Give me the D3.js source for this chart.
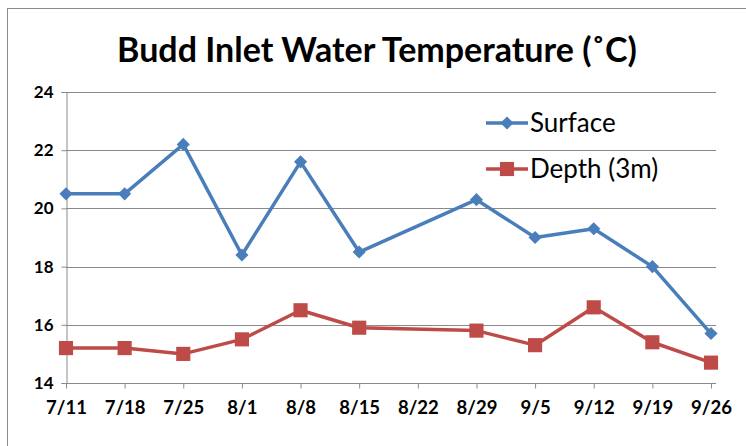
<!DOCTYPE html>
<html>
<head>
<meta charset="utf-8">
<script src="https://cdn.jsdelivr.net/npm/d3@7"></script>
<style>
  body { margin: 0; background: #fff; }
  text { font-family: Lato, "Open Sans", sans-serif; fill: #000; }
</style>
</head>
<body>
<svg id="chart" width="746" height="446"></svg>
<script>
// Budd Inlet water temperature, surface vs 3m depth

// Data
let dates = ["7/11", "7/18", "7/25", "8/1", "8/8", "8/15", "8/22", "8/29", "9/5", "9/12", "9/19", "9/26"];
let surface = [20.5, 20.5, 22.2, 18.4, 21.6, 18.5, null, 20.3, 19.0, 19.3, 18.0, 15.7];
let depth = [15.2, 15.2, 15.0, 15.5, 16.5, 15.9, null, 15.8, 15.3, 16.6, 15.4, 14.7];
let yTicks = [14, 16, 18, 20, 22, 24];

let svg = d3.select("#chart");

// Outer chart border (Excel style frame)
svg.append("rect")
	.attr("x", 7.5).attr("y", 8.5)
	.attr("width", 780).attr("height", 480)
	.attr("fill", "none")
	.attr("stroke", "#8c8c8c")
	.attr("stroke-width", 1);

// Scales
let x = d3.scalePoint().domain(dates).range([66, 711]);
let y = d3.scaleLinear().domain([14, 24]).range([383, 92]);
let plotRight = 716;

// Title
svg.append("text")
	.attr("x", 377).attr("y", 62)
	.attr("text-anchor", "middle")
	.style("font-size", "34px")
	.style("font-weight", "bold")
	.text("Budd Inlet Water Temperature (˚C)");

// Horizontal gridlines
svg.append("g").selectAll("line")
	.data(yTicks.filter(d => d != 14))
	.enter().append("line")
	.attr("x1", x.range()[0]).attr("x2", plotRight)
	.attr("y1", d => Math.round(y(d)) + 0.5)
	.attr("y2", d => Math.round(y(d)) + 0.5)
	.attr("stroke", "#8a8a8a")
	.attr("stroke-width", 1);

// Y axis
let yAxis = svg.append("g")
	.attr("transform", "translate(" + (x.range()[0] + 0.5) + ",0)")
	.call(d3.axisLeft(y).tickValues(yTicks).tickSize(5).tickPadding(8));

// X axis
let xAxis = svg.append("g")
	.attr("transform", "translate(0," + (Math.round(y(14)) + 0.5) + ")")
	.call(d3.axisBottom(x).tickSize(5).tickPadding(12));
xAxis.select(".domain").attr("d", "M" + x.range()[0] + ",0H" + plotRight);

[yAxis, xAxis].forEach(ax => {
	ax.select(".domain").attr("stroke", "#8a8a8a");
	ax.selectAll(".tick line").attr("stroke", "#8a8a8a");
	ax.selectAll(".tick text")
		.style("font-family", "Lato, sans-serif")
		.style("font-weight", "bold")
		.attr("fill", "#000");
});
yAxis.selectAll(".tick text").style("font-size", "17px");
xAxis.selectAll(".tick text").style("font-size", "18.5px");

// Series
let series = [
	{ name: "Surface", values: surface, color: "#4a7ebb", shape: d3.symbolDiamond2, size: 110 },
	{ name: "Depth (3m)", values: depth, color: "#be4b48", shape: d3.symbolSquare, size: 200 }
];

let line = d3.line()
	.x(d => x(d.date))
	.y(d => y(d.value));

series.forEach(s => {
	// skip the missing week but keep the line joined
	let pts = dates.map((d, i) => ({ date: d, value: s.values[i] }))
		.filter(p => p.value != null);

	svg.append("path")
		.datum(pts)
		.attr("d", line)
		.attr("fill", "none")
		.attr("stroke", s.color)
		.attr("stroke-width", 3.5)
		.attr("stroke-linejoin", "round");

	svg.append("g").selectAll("path")
		.data(pts)
		.enter().append("path")
		.attr("transform", d => "translate(" + x(d.date) + "," + y(d.value) + ")")
		.attr("d", d3.symbol().type(s.shape).size(s.size))
		.attr("fill", s.color);
});

// Legend
let legend = svg.append("g").attr("transform", "translate(486,123)");
series.forEach((s, i) => {
	let row = legend.append("g").attr("transform", "translate(0," + (i * 46) + ")");
	row.append("line")
		.attr("x1", 0).attr("x2", 42)
		.attr("stroke", s.color)
		.attr("stroke-width", 3.5);
	row.append("path")
		.attr("transform", "translate(21,0)")
		.attr("d", d3.symbol().type(s.shape).size(s.size))
		.attr("fill", s.color);
	row.append("text")
		.attr("x", 44).attr("y", 9)
		.style("font-size", "26px")
		.text(s.name);
});
</script>
</body>
</html>
